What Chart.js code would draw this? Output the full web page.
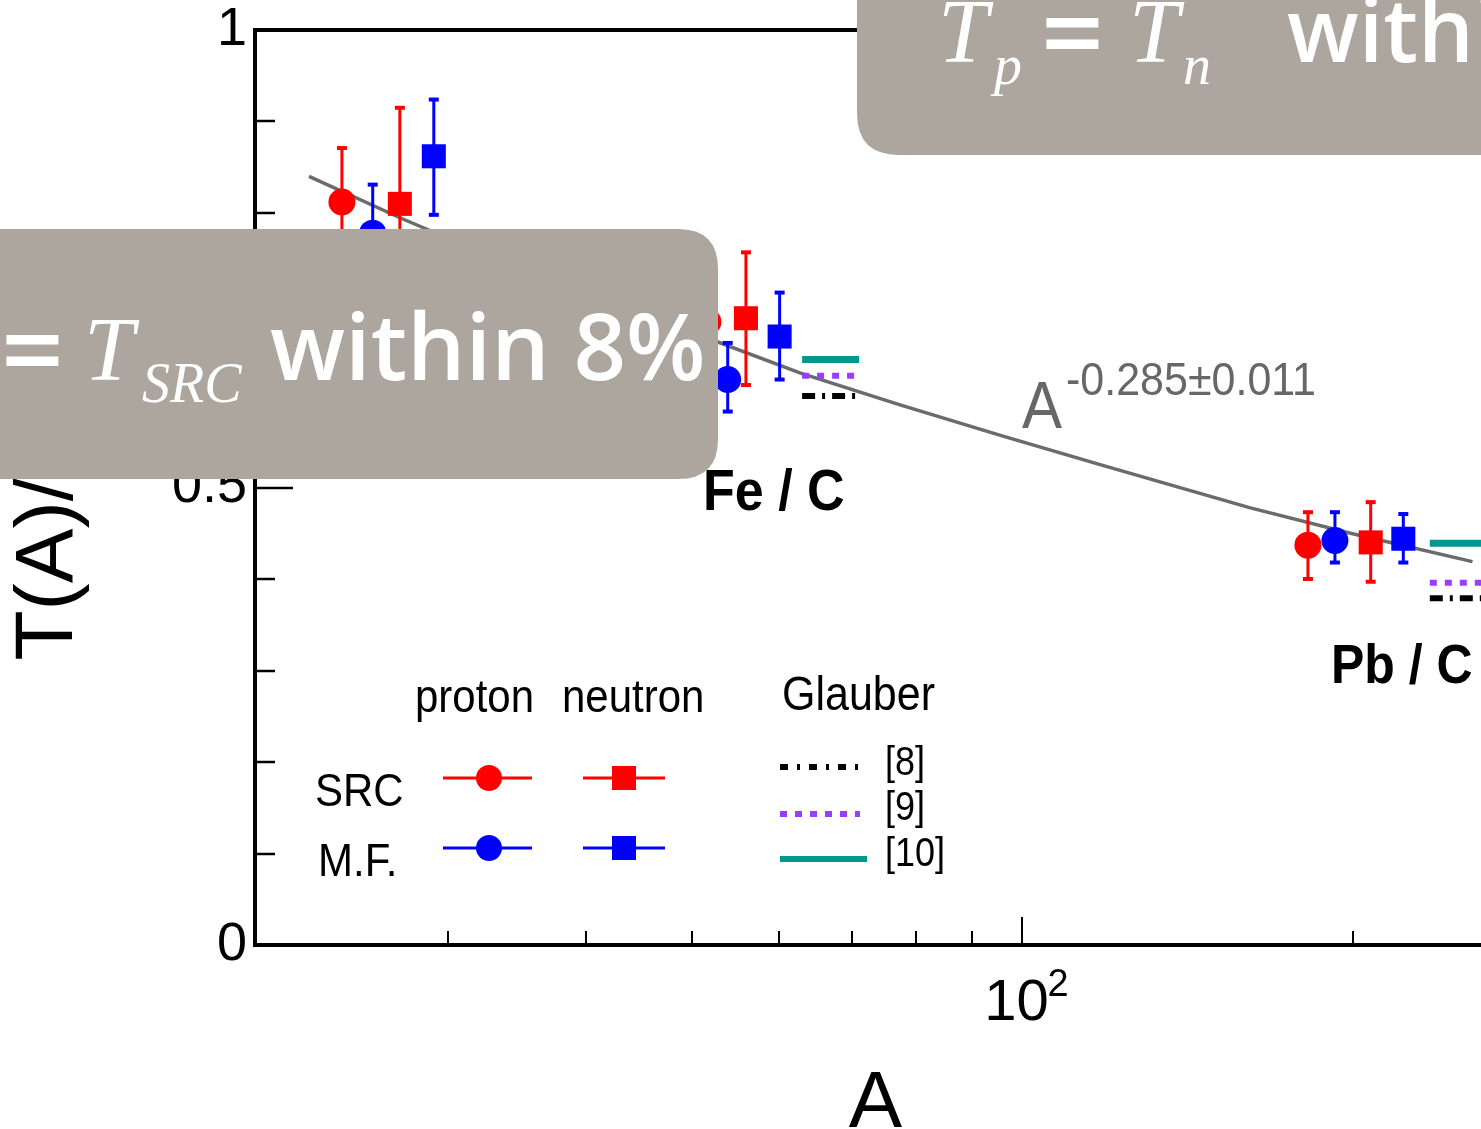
<!DOCTYPE html>
<html>
<head>
<meta charset="utf-8">
<script src="https://cdn.jsdelivr.net/npm/chart.js@4.4.1/dist/chart.umd.min.js"></script>
<style>
  html, body { margin: 0; padding: 0; background: #fff; overflow: hidden; width: 1481px; height: 1129px; }
  #wrap { position: absolute; left: 0; top: 0; width: 1520px; height: 1129px; }
</style>
</head>
<body>
<div id="wrap"><canvas id="chart"></canvas></div>
<script>
// x axis (A, log) and y axis ticks
const xTickValues = [30, 40, 50, 60, 70, 80, 90, 100, 200];
const xLabelValues = [100];
const xLabelTexts = ["10\u2009"];
const xLabelPowers = ["2"];
const yLabelValues = [0, 0.5, 1];
const yLabelTexts = ["0", "0.5", "1"];

// SRC proton (red circles)
const srcProtonA = [24.0, 51.7, 182.0];
const srcProtonT = [0.812, 0.681, 0.437];
const srcProtonLo = [0.754, 0.622, 0.400];
const srcProtonHi = [0.871, 0.740, 0.473];
// M.F. proton (blue circles)
const mfProtonA = [25.6, 53.9, 192.6];
const mfProtonT = [0.778, 0.618, 0.442];
const mfProtonLo = [0.726, 0.583, 0.418];
const mfProtonHi = [0.831, 0.658, 0.473];
// SRC neutron (red squares)
const srcNeutronA = [27.1, 56.0, 207.6];
const srcNeutronT = [0.810, 0.685, 0.440];
const srcNeutronLo = [0.705, 0.612, 0.397];
const srcNeutronHi = [0.915, 0.757, 0.484];
// M.F. neutron (blue squares)
const mfNeutronA = [29.1, 60.1, 222.3];
const mfNeutronT = [0.862, 0.665, 0.444];
const mfNeutronLo = [0.798, 0.618, 0.418];
const mfNeutronHi = [0.924, 0.713, 0.471];

// Glauber calculations, short segments next to Fe and Pb
const glauberA = [63.0, 71.0, 120, 235, 265];
const glauber8 = [0.600, 0.600, null, 0.379, 0.379];
const glauber9 = [0.622, 0.622, null, 0.396, 0.396];
const glauber10 = [0.640, 0.640, null, 0.439, 0.439];

// A^-0.285 fit curve
const fitA = [22.4, 27.2, 33.5, 41.4, 52.8, 62.8, 77.5, 95.5, 117.7, 161, 199, 257];
const fitT = [0.840, 0.794, 0.748, 0.705, 0.659, 0.625, 0.590, 0.557, 0.525, 0.478, 0.450, 0.419];

const RED = "#ff0000";
const BLUE = "#0000ff";
const TEAL = "#00978f";
const PURPLE = "#9b3dff";
const ARIAL = "'Liberation Sans', Arial, sans-serif";

function pts(xs, ys) {
    return xs.map((x, i) => ({ x: x, y: ys[i] }));
}

function marker(label, xs, ys, lo, hi, color, style, radius, order) {
    return {
        label: label,
        data: pts(xs, ys),
        errLo: lo,
        errHi: hi,
        pointStyle: style,
        pointRadius: radius,
        backgroundColor: color,
        borderColor: color,
        borderWidth: 0,
        order: order
    };
}

function seg(label, ys, color, dash, width) {
    return {
        label: label,
        data: pts(glauberA, ys),
        showLine: true,
        spanGaps: false,
        borderColor: color,
        borderWidth: width,
        borderDash: dash,
        borderCapStyle: "butt",
        pointRadius: 0,
        order: 9
    };
}

function txt(ctx, s, x, y, size, opts) {
    opts = opts || {};
    ctx.save();
    ctx.translate(x, y);
    ctx.scale(1, opts.stretch || 1.12);
    ctx.font = (opts.weight || "normal") + " " + size + "px " + (opts.family || ARIAL);
    ctx.fillStyle = opts.color || "#000";
    ctx.textAlign = opts.align || "left";
    ctx.textBaseline = "alphabetic";
    ctx.fillText(s, 0, 0);
    ctx.restore();
}

function roundBox(ctx, x0, y0, x1, y1, r) {
    ctx.beginPath();
    ctx.moveTo(x0 + r, y0);
    ctx.lineTo(x1 - r, y0);
    ctx.quadraticCurveTo(x1, y0, x1, y0 + r);
    ctx.lineTo(x1, y1 - r);
    ctx.quadraticCurveTo(x1, y1, x1 - r, y1);
    ctx.lineTo(x0 + r, y1);
    ctx.quadraticCurveTo(x0, y1, x0, y1 - r);
    ctx.lineTo(x0, y0 + r);
    ctx.quadraticCurveTo(x0, y0, x0 + r, y0);
    ctx.closePath();
    ctx.fillStyle = "#aca69f";
    ctx.fill();
}

const errorBars = {
    id: "errorBars",
    beforeDatasetDraw(chart, args) {
        const ds = chart.data.datasets[args.index];
        if (!ds.errLo) return;
        const { ctx, scales: { x, y } } = chart;
        ctx.save();
        ctx.strokeStyle = ds.borderColor;
        ctx.fillStyle = ds.borderColor;
        ctx.lineWidth = 3;
        ds.data.forEach((p, i) => {
            const px = x.getPixelForValue(p.x);
            const yl = y.getPixelForValue(ds.errLo[i]);
            const yh = y.getPixelForValue(ds.errHi[i]);
            ctx.beginPath();
            ctx.moveTo(px, yl);
            ctx.lineTo(px, yh);
            ctx.stroke();
            ctx.fillRect(px - 5, yh - 2, 10, 4);
            ctx.fillRect(px - 5, yl - 2, 10, 4);
        });
        ctx.restore();
    }
};

const frameAndText = {
    id: "frameAndText",
    beforeDatasetsDraw(chart) {
        const { ctx, chartArea: a, scales: { x, y } } = chart;
        ctx.save();
        ctx.strokeStyle = "#000";
        ctx.lineWidth = 4;
        ctx.strokeRect(a.left, a.top, a.right - a.left, a.bottom - a.top);
        // inward ticks
        ctx.lineWidth = 2.5;
        y.ticks.forEach(t => {
            if (t.value <= 0 || t.value >= 1) return;
            const py = Math.round(y.getPixelForValue(t.value));
            const len = Math.abs(t.value - 0.5) < 1e-6 ? 38 : 20;
            ctx.beginPath();
            ctx.moveTo(a.left, py);
            ctx.lineTo(a.left + len, py);
            ctx.stroke();
        });
        ctx.lineWidth = 2;
        xTickValues.forEach(v => {
            const px = Math.round(x.getPixelForValue(v));
            const len = xLabelValues.includes(v) ? 28 : 14;
            ctx.beginPath();
            ctx.moveTo(px, a.bottom);
            ctx.lineTo(px, a.bottom - len);
            ctx.stroke();
        });
        ctx.restore();
    },
    afterDraw(chart) {
        const ctx = chart.ctx;
        const x = chart.scales.x;
        // exponent of the 10^2 tick label
        xLabelValues.forEach((v, i) => {
            txt(ctx, xLabelPowers[i], x.getPixelForValue(v) + 25, 996, 38, { stretch: 1 });
        });
        // group labels and fit label
        txt(ctx, "Fe / C", 703, 510, 52, { weight: "bold" });
        txt(ctx, "Pb / C", 1331, 683, 50, { weight: "bold" });
        txt(ctx, "A", 1022, 428, 60, { color: "#676767" });
        txt(ctx, "-0.285\u00B10.011", 1066, 395, 43, { color: "#676767", stretch: 1.06 });

        // legend
        txt(ctx, "proton", 415, 712, 42);
        txt(ctx, "neutron", 562, 712, 42);
        txt(ctx, "Glauber", 782, 710, 43);
        txt(ctx, "SRC", 315, 806, 42);
        txt(ctx, "M.F.", 318, 876, 42);
        const rows = [[778, RED], [848, BLUE]];
        ctx.save();
        rows.forEach(([ly, c]) => {
            ctx.strokeStyle = c;
            ctx.fillStyle = c;
            ctx.lineWidth = 3;
            ctx.beginPath();
            ctx.moveTo(443, ly); ctx.lineTo(532, ly);
            ctx.moveTo(583, ly); ctx.lineTo(665, ly);
            ctx.stroke();
            ctx.beginPath();
            ctx.arc(489, ly, 13, 0, Math.PI * 2);
            ctx.fill();
            ctx.fillRect(612, ly - 12, 24, 24);
        });
        ctx.lineCap = "butt";
        ctx.lineWidth = 6;
        ctx.strokeStyle = "#000";
        ctx.setLineDash([8, 9, 3, 9]);
        ctx.beginPath(); ctx.moveTo(780, 767); ctx.lineTo(860, 767); ctx.stroke();
        ctx.strokeStyle = PURPLE;
        ctx.setLineDash([7, 8]);
        ctx.beginPath(); ctx.moveTo(780, 814); ctx.lineTo(860, 814); ctx.stroke();
        ctx.strokeStyle = TEAL;
        ctx.setLineDash([]);
        ctx.beginPath(); ctx.moveTo(780, 859); ctx.lineTo(867, 859); ctx.stroke();
        ctx.restore();
        txt(ctx, "[8]", 885, 775, 36);
        txt(ctx, "[9]", 885, 820, 36);
        txt(ctx, "[10]", 885, 866, 36);

        // grey callout boxes laid over the slide
        const serif = "'Liberation Serif', 'DejaVu Serif', serif";
        const sans = "'Open Sans', Lato, sans-serif";
        const w = { family: sans, weight: "600", color: "#fff", stretch: 1 };
        const it = { family: serif, weight: "italic", color: "#fff", stretch: 1 };
        roundBox(ctx, 857, -60, 1600, 155, 42);
        txt(ctx, "T", 938, 62, 90, it);
        txt(ctx, "p", 994, 84, 56, it);
        txt(ctx, "=", 1041, 72, 110, w);
        txt(ctx, "T", 1129, 62, 90, it);
        txt(ctx, "n", 1183, 84, 56, it);
        txt(ctx, "within", 1287, 62, 88, w);

        roundBox(ctx, -60, 229, 718, 479, 40);
        txt(ctx, "=", 1, 389, 110, w);
        txt(ctx, "T", 84, 380, 90, it);
        txt(ctx, "SRC", 142, 402, 56, it);
        txt(ctx, "within 8%", 270, 380, 92, w);
    }
};

const chartData = {
    datasets: [
        {
            label: "A^-0.285 fit",
            data: pts(fitA, fitT),
            showLine: true,
            borderColor: "#6b6b6b",
            borderWidth: 3.5,
            pointRadius: 0,
            order: 10
        },
        seg("Glauber [8]", glauber8, "#000", [13, 7, 3, 7], 6),
        seg("Glauber [9]", glauber9, PURPLE, [7, 8], 6),
        seg("Glauber [10]", glauber10, TEAL, [], 7),
        marker("SRC proton", srcProtonA, srcProtonT, srcProtonLo, srcProtonHi, RED, "circle", 13.5, 4),
        marker("M.F. proton", mfProtonA, mfProtonT, mfProtonLo, mfProtonHi, BLUE, "circle", 13.5, 3),
        marker("SRC neutron", srcNeutronA, srcNeutronT, srcNeutronLo, srcNeutronHi, RED, "rect", 17, 2),
        marker("M.F. neutron", mfNeutronA, mfNeutronT, mfNeutronLo, mfNeutronHi, BLUE, "rect", 17, 1)
    ]
};

const chartOptions = {
    responsive: true,
    maintainAspectRatio: false,
    animation: false,
    events: [],
    layout: {
        padding: { top: 30, right: 24, left: 0, bottom: 0 }
    },
    plugins: {
        legend: { display: false },
        tooltip: { enabled: false }
    },
    scales: {
        x: {
            type: "logarithmic",
            position: "bottom",
            min: 20,
            max: 270,
            grid: { display: false, drawTicks: false },
            border: { display: false },
            afterBuildTicks: scale => {
                scale.ticks = xTickValues.map(v => ({ value: v }));
            },
            afterFit: scale => {
                scale.height = 184;
            },
            ticks: {
                autoSkip: false,
                maxRotation: 0,
                padding: 30,
                color: "#000",
                font: { family: ARIAL, size: 58, lineHeight: 1 },
                callback: v => {
                    const i = xLabelValues.indexOf(v);
                    return i >= 0 ? xLabelTexts[i] : "";
                }
            },
            title: {
                display: true,
                text: "A",
                color: "#000",
                padding: 0,
                font: { family: ARIAL, size: 80, lineHeight: 0.6 }
            }
        },
        y: {
            type: "linear",
            min: 0,
            max: 1,
            grid: { display: false, drawTicks: false },
            border: { display: false },
            afterFit: scale => {
                scale.width = 255;
            },
            ticks: {
                stepSize: 0.1,
                padding: 8,
                color: "#000",
                font: { family: ARIAL, size: 54, lineHeight: 0.8 },
                callback: v => {
                    const i = yLabelValues.findIndex(w => Math.abs(w - v) < 1e-6);
                    return i >= 0 ? yLabelTexts[i] : "";
                }
            },
            title: {
                display: true,
                text: "T(A)/T(C)",
                color: "#000",
                padding: 0,
                font: { family: ARIAL, size: 82, lineHeight: 1.2 }
            }
        }
    }
};

new Chart(document.getElementById("chart"), {
    type: "scatter",
    data: chartData,
    options: chartOptions,
    plugins: [errorBars, frameAndText]
});
</script>
</body>
</html>
